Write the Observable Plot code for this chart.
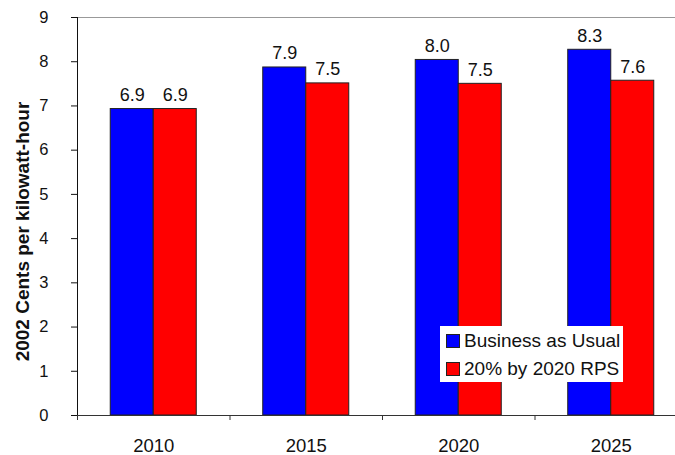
<!DOCTYPE html>
<html>
<head>
<meta charset="utf-8">
<script src="https://cdn.jsdelivr.net/npm/d3@7"></script>
<script src="https://cdn.jsdelivr.net/npm/@observablehq/plot@0.6"></script>
<style>
  html, body { margin: 0; padding: 0; background: white; }
  #chart { position: relative; width: 675px; height: 455px; font-family: "Liberation Sans", Arial, sans-serif; color: #111; }
  #legend { position: absolute; left: 440px; top: 326px; width: 183px; height: 56px; background: white; padding-top: 1px; box-sizing: border-box; }
  .item { display: flex; align-items: center; height: 28px; font-size: 19px; }
  .sw { width: 12px; height: 12px; border: 1px solid #222; margin-left: 6px; margin-right: 4px; }
</style>
</head>
<body>
<div id="chart"></div>
<script>
const years = [2010, 2015, 2020, 2025];
const businessAsUsual = [6.93, 7.87, 8.04, 8.27];
const rps2020 = [6.93, 7.51, 7.50, 7.57];
const seriesNames = ["Business as Usual", "20% by 2020 RPS"];
const seriesColors = ["#0000ff", "#ff0000"];
const yTicks = [0, 1, 2, 3, 4, 5, 6, 7, 8, 9];
const categoryBounds = [2007.5, 2012.5, 2017.5, 2022.5, 2027.5];
const yLabel = "2002 Cents per kilowatt-hour";

const barWidth = 1.41; // in years
const rows = years.flatMap((year, i) => [
  {year, series: seriesNames[0], value: businessAsUsual[i], side: -1},
  {year, series: seriesNames[1], value: rps2020[i], side: 1}
]);
const x1 = d => d.side < 0 ? d.year - barWidth : d.year;
const x2 = d => d.side < 0 ? d.year : d.year + barWidth;

const plot = Plot.plot({
  width: 675,
  height: 455,
  marginLeft: 77,
  marginTop: 17,
  marginBottom: 40,
  marginRight: 0,
  style: {fontFamily: "Liberation Sans, Arial, sans-serif", color: "#111", background: "white"},
  x: {domain: [categoryBounds[0], categoryBounds[categoryBounds.length - 1]], range: [77, 687]},
  y: {domain: [0, 9]},
  color: {domain: seriesNames, range: seriesColors},
  marks: [
    Plot.ruleY([9], {stroke: "#999", strokeWidth: 1}),
    Plot.rectY(rows, {x1, x2, y1: 0, y2: "value", fill: "series", stroke: "#222", strokeWidth: 1}),
    Plot.text(rows, {x: d => (x1(d) + x2(d)) / 2, y: "value", text: d => d.value.toFixed(1), dy: -8, lineAnchor: "bottom", fontSize: 18, fill: "#111"}),
    Plot.ruleY([0], {stroke: "#333", strokeWidth: 1}),
    Plot.ruleX([categoryBounds[0]], {y1: 0, y2: 9, stroke: "#111", strokeWidth: 1}),
    Plot.axisY({ticks: yTicks, tickSize: 6, tickFormat: () => "", label: null, stroke: "#111"}),
    Plot.axisY({ticks: yTicks, tickSize: 0, dx: -20, fontSize: 16.5, label: null}),
    Plot.axisX({ticks: categoryBounds, tickSize: 5, tickFormat: () => "", label: null, stroke: "#333"}),
    Plot.axisX({ticks: years, tickSize: 0, tickPadding: 23, tickFormat: d => String(d), fontSize: 18.5, label: null}),
    Plot.text([yLabel], {frameAnchor: "left", textAnchor: "middle", text: d => d, rotate: -90, dx: -55, dy: 15, fontSize: 19, fontWeight: "bold", fill: "#111"})
  ]
});

const chart = document.getElementById("chart");
chart.appendChild(plot);

const legend = document.createElement("div");
legend.id = "legend";
seriesNames.forEach((name, i) => {
  const item = document.createElement("div");
  item.className = "item";
  const sw = document.createElement("span");
  sw.className = "sw";
  sw.style.background = seriesColors[i];
  const label = document.createElement("span");
  label.textContent = name;
  item.appendChild(sw);
  item.appendChild(label);
  legend.appendChild(item);
});
chart.appendChild(legend);
</script>
</body>
</html>
